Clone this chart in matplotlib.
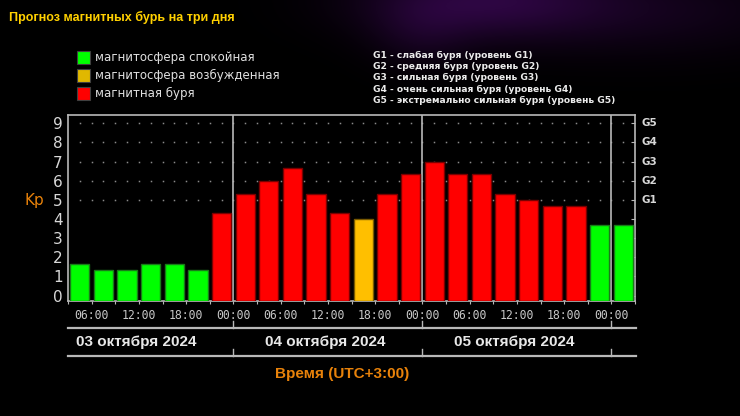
import numpy as np
import matplotlib
matplotlib.use("Agg")
import matplotlib.pyplot as plt

# ---------------- data ----------------
kp_values = [1.67, 1.33, 1.33, 1.67, 1.67, 1.33, 4.33,
             5.33, 6.00, 6.67, 5.33, 4.33, 4.00, 5.33, 6.33,
             7.00, 6.33, 6.33, 5.33, 5.00, 4.67, 4.67, 3.67,
             3.67]
bar_status = ['q', 'q', 'q', 'q', 'q', 'q', 's',
              's', 's', 's', 's', 's', 'a', 's', 's',
              's', 's', 's', 's', 's', 's', 's', 'q',
              'q']
hour_labels = ['06:00', '12:00', '18:00', '00:00'] * 3
day_labels = ['03 октября 2024', '04 октября 2024', '05 октября 2024']
y_ticks = list(range(10))
g_labels = ['G1', 'G2', 'G3', 'G4', 'G5']
legend_left = ['магнитосфера спокойная', 'магнитосфера возбужденная', 'магнитная буря']
legend_right = ['G1 - слабая буря (уровень G1)',
                'G2 - средняя буря (уровень G2)',
                'G3 - сильная буря (уровень G3)',
                'G4 - очень сильная буря (уровень G4)',
                'G5 - экстремально сильная буря (уровень G5)']
title = 'Прогноз магнитных бурь на три дня'

fill = {'q': '#00ff00', 'a': '#ffbf00', 's': '#ff0000'}
edge = {'q': '#1a7a1a', 'a': '#7a5a00', 's': '#7a0000'}

W, H = 740, 416
fig = plt.figure(figsize=(W / 100, H / 100), dpi=100)
fig.patch.set_facecolor('black')

# background glow
bg = fig.add_axes([0, 0, 1, 1], zorder=-5)
yy, xx = np.mgrid[0:H, 0:W]
img = np.zeros((H, W, 3))
g1 = np.exp(-(((xx - 480) / 120.0) ** 2 + ((yy - 0) / 38.0) ** 2))
g2 = np.exp(-(((xx - 650) / 160.0) ** 2 + ((yy - 10) / 45.0) ** 2))
g3 = np.exp(-(((xx - 420) / 50.0) ** 2 + ((yy - 35) / 35.0) ** 2))
glow = 0.7 * g1 + 0.3 * g2 + 0.25 * g3
img[..., 0] = 0.22 * glow
img[..., 1] = 0.03 * glow
img[..., 2] = 0.32 * glow
bg.imshow(np.clip(img, 0, 1), extent=[0, W, H, 0], aspect='auto')
bg.set_xlim(0, W)
bg.set_ylim(H, 0)
bg.axis('off')

def fx(px):
    return px / W

def fy(py):
    return 1 - py / H

# ---------------- main axes ----------------
x0, x1, ytop, ybot = 68, 635, 115, 301
ax = fig.add_axes([fx(x0), fy(ybot), fx(x1 - x0), (ybot - ytop) / H])
ax.set_facecolor('none')
n = len(kp_values)
xs = np.arange(n) * 3 + 1.5
ax.bar(xs, kp_values, width=2.45, bottom=-0.28,
       color=[fill[s] for s in bar_status],
       edgecolor=[edge[s] for s in bar_status], linewidth=1.0, zorder=3)
# bottom param shifts bar base; correct heights
for p, v in zip(ax.patches, kp_values):
    p.set_height(v + 0.28)

ax.set_xlim(0, 72)
ax.set_ylim(-0.28, 9.43)

# dotted grid at G levels
gx = np.arange(1.5, 72, 1.5)
for lvl in range(5, 10):
    ax.plot(gx, [lvl] * len(gx), linestyle='none', marker='s', markersize=1.1,
            color='#8a8a8a', markeredgewidth=0, zorder=1)

# day separators
for d in (21, 45, 69):
    ax.axvline(d, color='#b8b8b8', lw=1.2, zorder=2)

for s in ('top', 'left', 'right', 'bottom'):
    ax.spines[s].set_color('#b8b8b8')
    ax.spines[s].set_linewidth(1.2)

ax.set_yticks(y_ticks)
ax.set_yticklabels([str(v) for v in y_ticks], fontsize=11, color='#d8d8d8',
                   family='DejaVu Sans')
ax.tick_params(axis='y', which='both', left=False, right=True, direction='in',
               length=3, color='#b8b8b8', pad=4)

ax.set_xticks(np.arange(0, 73, 3))
ax.set_xticklabels([])
ax.tick_params(axis='x', direction='out', length=2, color='#b8b8b8')

for i, lab in enumerate(hour_labels):
    ax.text(3 + 6 * i, -0.28 - 14 / 19.16 - 0.05, lab, ha='center', va='center',
            fontsize=8.3, color='#c8c8c8', family='DejaVu Sans Mono',
            clip_on=False)

# right G labels
for i, g in enumerate(g_labels):
    fig.text(fx(641), fy(295.7 - 19.16 * (5 + i)), g, ha='left', va='center',
             fontsize=7.5, fontweight='bold', color='#d8d8d8')

# Kp label
fig.text(fx(24), fy(201), 'Kp', ha='left', va='center', fontsize=11,
         color='#e8820a')

# lower lines with ticks
narrow = ['Liberation Sans Narrow', 'Liberation Sans', 'DejaVu Sans']
for ly in (328, 356):
    fig.add_artist(plt.Line2D([fx(68), fx(636)], [fy(ly), fy(ly)],
                              color='#b8b8b8', lw=1.6))
    for d in (233, 422, 611):
        fig.add_artist(plt.Line2D([fx(d), fx(d)], [fy(ly), fy(ly - 7)],
                                  color='#b8b8b8', lw=1.0))

day_centers = [136, 325, 514]
for c, lab in zip(day_centers, day_labels):
    fig.text(fx(c), fy(342), lab, ha='center', va='center', fontsize=11,
             fontweight='bold', color='#e8e8e8', family=narrow)

fig.text(fx(342), fy(374), 'Время (UTC+3:00)', ha='center', va='center',
         fontsize=11, fontweight='bold', color='#e8820a', family=narrow)

# title
fig.text(fx(9), fy(17), title, ha='left', va='center', fontsize=9,
         fontweight='bold', color='#ffd000', family=['Liberation Sans', 'DejaVu Sans'])

# left legend
for i, (lab, st) in enumerate(zip(legend_left, ['q', 'a', 's'])):
    cy = 57 + 18 * i
    fig.add_artist(plt.Rectangle((fx(77), fy(cy + 6.5)), 13 / W, 13 / H,
                                 facecolor=fill[st] if st != 'a' else '#e0b800',
                                 edgecolor='#404040', lw=0.8))
    fig.text(fx(95), fy(cy), lab, ha='left', va='center', fontsize=8.5,
             color='#e0e0e0')

# right legend
for i, lab in enumerate(legend_right):
    fig.text(fx(373), fy(55.5 + 11.2 * i), lab, ha='left', va='center',
             fontsize=6.6, fontweight='bold', color='#ececec')

fig.savefig('out.png', dpi=100, facecolor='black')
